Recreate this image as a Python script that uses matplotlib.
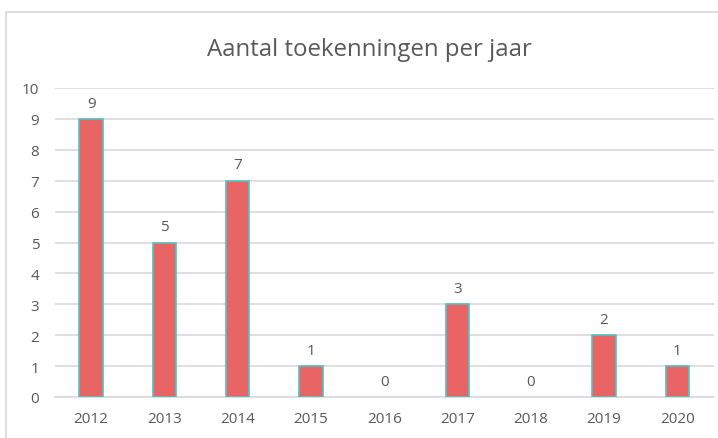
import matplotlib
matplotlib.use("Agg")
import matplotlib.pyplot as plt
from matplotlib.patches import Rectangle

years = ["2012", "2013", "2014", "2015", "2016", "2017", "2018", "2019", "2020"]
counts = [9, 5, 7, 1, 0, 3, 0, 2, 1]
yticks = list(range(0, 11))

plt.rcParams['font.family'] = ['Open Sans', 'DejaVu Sans']
txt = '#595959'

fig = plt.figure(figsize=(7.18, 4.39), dpi=100)
fig.patches.append(Rectangle((6/718, -0.1), 1.2, (439-13)/439 + 0.1, transform=fig.transFigure,
                             fill=False, edgecolor='#D9D9D9', linewidth=1.2))
ax = fig.add_axes([54.5/718, 41/439, 659.5/718, 309/439])
x = list(range(len(years)))
bars = ax.bar(x, counts, width=0.32, color='#E96565', edgecolor='#4FC3C3', linewidth=1.2, zorder=3)
for b, v in zip(bars, counts):
    if v == 0:
        b.set_linewidth(0)
for xi, v in zip(x, counts):
    ax.annotate(str(v), (xi, v), xytext=(0, 6), textcoords='offset points',
                ha='center', va='bottom', fontsize=11, color=txt)
ax.set_xlim(-0.5, len(years) - 0.5)
ax.set_ylim(0, 10)
ax.set_yticks(yticks)
ax.set_xticks(x)
ax.set_xticklabels(years)
ax.grid(axis='y', color='#D9D9D9', linewidth=1.2, zorder=0)
for s in ['top', 'right', 'left']:
    ax.spines[s].set_visible(False)
ax.spines['bottom'].set_color('#D9D9D9')
ax.spines['bottom'].set_linewidth(1.2)
ax.tick_params(axis='both', length=0, labelsize=11, colors=txt)
ax.tick_params(axis='y', pad=11)
ax.tick_params(axis='x', pad=10)
fig.text(369/718, 1 - 50/439, "Aantal toekenningen per jaar", ha='center', va='center',
         fontsize=17.3, color=txt)
fig.savefig("out.png", dpi=100)
